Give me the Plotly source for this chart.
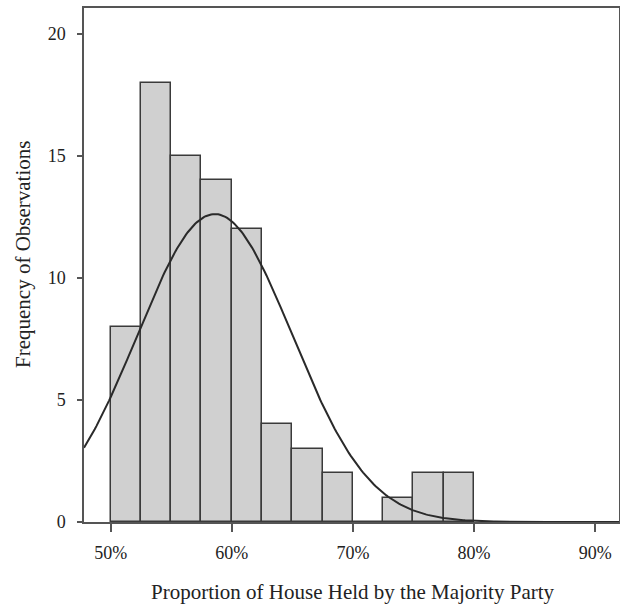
import numpy as np
import plotly.graph_objects as go

# Histogram data (bin left edges in %, width 2.5)
bin_starts = [50.0, 52.5, 55.0, 57.5, 60.0, 62.5, 65.0, 67.5, 70.0, 72.5, 75.0, 77.5]
counts = [8, 18, 15, 14, 12, 4, 3, 2, 0, 1, 2, 2]
bin_width = 2.5

# Fitted normal curve parameters
fit_mean = 58.6
fit_sd = 6.4

x_tickvals = [50, 60, 70, 80, 90]
x_ticktext = ["50%", "60%", "70%", "80%", "90%"]
y_tickvals = [0, 5, 10, 15, 20]

x_title = "Proportion of House Held by the Majority Party"
y_title = "Frequency of Observations"

x_range = [47.80, 91.97]
y_range = [0, 21.07]

n_total = sum(counts)
xs = np.linspace(x_range[0], x_range[1], 300)
ys = n_total * bin_width * np.exp(-0.5 * ((xs - fit_mean) / fit_sd) ** 2) / (fit_sd * np.sqrt(2 * np.pi))

centers = [b + bin_width / 2 for b in bin_starts]

fig = go.Figure()
fig.add_trace(go.Bar(
    x=centers, y=counts, width=bin_width,
    marker=dict(color="#d0d0d0", line=dict(color="#3a3a3a", width=1.5)),
    hoverinfo="x+y",
))
fig.add_trace(go.Scatter(
    x=xs, y=ys, mode="lines",
    line=dict(color="#2a2a2a", width=2),
))

font_family = "Liberation Serif, Times New Roman, serif"
fig.update_layout(
    width=620, height=605,
    margin=dict(l=84, r=1, t=8, b=83),
    paper_bgcolor="white", plot_bgcolor="white",
    showlegend=False,
    bargap=0,
    font=dict(family=font_family, size=18, color="#222"),
)
fig.update_xaxes(
    range=x_range, tickvals=x_tickvals, ticktext=x_ticktext,
    showgrid=False, zeroline=False,
    showline=True, linecolor="#555", linewidth=1.5, mirror=True,
    ticks="outside", ticklen=8, tickcolor="#555", tickwidth=1.5,
    ticklabelstandoff=6, automargin=False,
    tickfont=dict(family=font_family, size=18, color="#222"),
)
fig.update_yaxes(
    range=y_range, tickvals=y_tickvals,
    showgrid=False, zeroline=False,
    showline=True, linecolor="#555", linewidth=1.5, mirror=True,
    ticks="outside", ticklen=5, tickcolor="#555", tickwidth=1.5,
    ticklabelstandoff=8, automargin=False,
    tickfont=dict(family=font_family, size=18, color="#222"),
)
fig.add_annotation(
    text=x_title,
    xref="paper", yref="paper", x=0.5028, y=-0.1362,
    xanchor="center", yanchor="middle", showarrow=False,
    font=dict(family=font_family, size=21, color="#222"),
)
fig.add_annotation(
    text=y_title, textangle=-90,
    xref="paper", yref="paper", x=-0.114, y=0.5195,
    xanchor="center", yanchor="middle", showarrow=False,
    font=dict(family=font_family, size=21, color="#222"),
)

fig.write_html(
    "out.html",
    config={"displayModeBar": False},
    post_script="document.body.style.margin='0';document.body.style.overflow='hidden';",
)
